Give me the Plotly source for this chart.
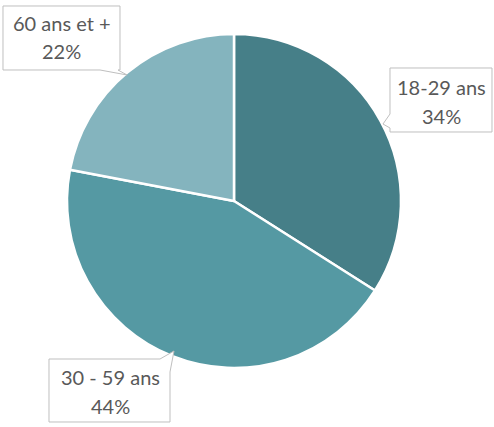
import plotly.graph_objects as go

categories = ["18-29 ans", "30 - 59 ans", "60 ans et +"]
values = [34, 44, 22]
colors = ["#467F88", "#5599A3", "#84B4BE"]

W, H = 494, 427

def px(x):
    return x / W

def py(y):
    return (H - y) / H

fig = go.Figure(go.Pie(
    labels=categories, values=values, sort=False, direction="clockwise", rotation=0,
    marker=dict(colors=colors, line=dict(color="white", width=2.5)),
    textinfo="none", hoverinfo="label+percent", showlegend=False,
    domain=dict(x=[px(67), px(401)], y=[py(368), py(34)]),
))

def path(pts):
    return "M " + " L ".join(f"{px(a):.5f},{py(b):.5f}" for a, b in pts) + " Z"

boxes = {
    "60 ans et +": [(3, 6), (120, 6), (120, 70), (118, 70), (127, 75), (100, 70), (3, 70)],
    "18-29 ans": [(390, 68), (492, 68), (492, 132), (390, 132), (390, 128), (383, 124), (390, 114)],
    "30 - 59 ans": [(49, 359), (160, 359), (174, 351), (170, 372), (170, 422), (49, 422)],
}
centers = {"60 ans et +": (62, 23, 51), "18-29 ans": (441, 87, 116), "30 - 59 ans": (110, 377, 406)}

shapes = []
annotations = []
total = sum(values)
for cat, val in zip(categories, values):
    shapes.append(dict(type="path", xref="paper", yref="paper", path=path(boxes[cat]),
                       line=dict(color="#BFBFBF", width=1), fillcolor="white", layer="above"))
    cx, y1, y2 = centers[cat]
    for txt, yy in ((cat, y1), (f"{round(val / total * 100)}%", y2)):
        annotations.append(dict(text=txt, x=px(cx), y=py(yy), xref="paper", yref="paper",
                                showarrow=False, xanchor="center", yanchor="middle",
                                font=dict(family="Lato", size=20, color="#595959")))

fig.update_layout(width=W, height=H, margin=dict(l=0, r=0, t=0, b=0),
                  paper_bgcolor="white", plot_bgcolor="white",
                  shapes=shapes, annotations=annotations)
fig.write_html("out.html", config={"displayModeBar": False},
               post_script="document.body.style.margin='0';document.body.style.overflow='hidden';")
